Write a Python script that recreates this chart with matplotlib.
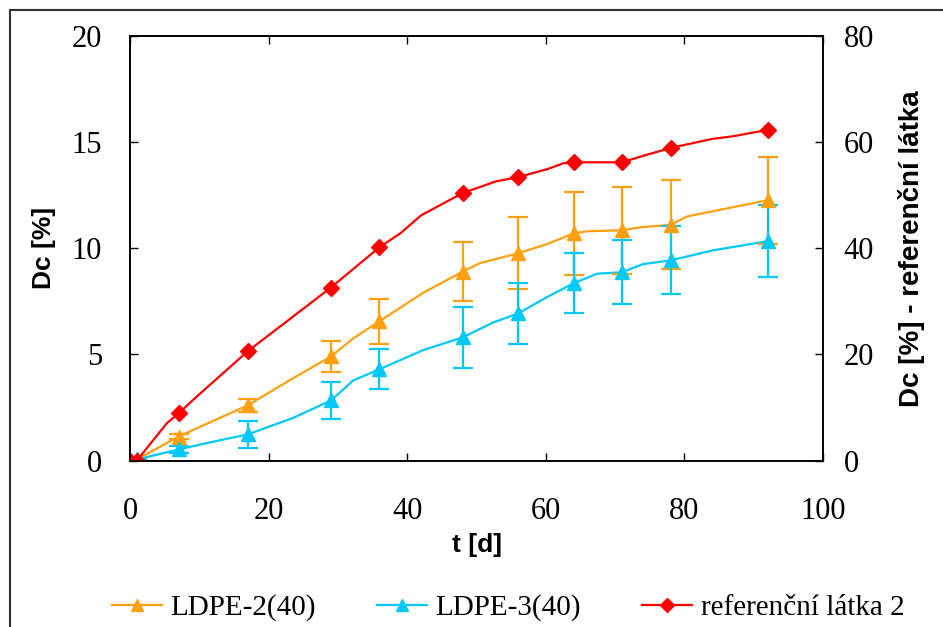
import matplotlib.pyplot as plt
from matplotlib.lines import Line2D
from matplotlib.patches import Rectangle

# measured points (markers + error bars)
t_pts = [0, 1, 7, 17, 29, 36, 48, 56, 64, 71, 78, 92]
ldpe2 = [0, 0.05, 1.13, 2.6, 4.9, 6.56, 8.9, 9.76, 10.7, 10.85, 11.1, 12.26]
ldpe2_err = [0, 0, 0.1, 0.3, 0.75, 1.05, 1.4, 1.7, 1.95, 2.05, 2.1, 2.05]
ldpe3 = [0, 0.05, 0.52, 1.23, 2.83, 4.3, 5.8, 6.93, 8.35, 8.87, 9.43, 10.33]
ldpe3_err = [0, 0, 0.15, 0.65, 0.87, 0.95, 1.43, 1.42, 1.42, 1.5, 1.6, 1.7]
ref2 = [0, 0, 8.9, 20.6, 32.6, 40.2, 50.4, 53.4, 56.2, 56.2, 58.9, 62.3]

# continuous curves (denser readings)
t_ldpe2_c = [0, 1, 7, 17, 23.5, 29, 32.2, 36, 39, 42.3, 48, 50.5, 56, 60.2, 64, 66, 71, 74, 78, 80.4, 88, 92]
ldpe2_c = [0, 0.05, 1.13, 2.6, 3.87, 4.9, 5.75, 6.56, 7.2, 7.9, 8.9, 9.3, 9.76, 10.2, 10.7, 10.8, 10.85, 11.0, 11.1, 11.5, 12.0, 12.26]
t_ldpe3_c = [0, 1, 7, 11.5, 17, 23.5, 29, 32.2, 36, 42.3, 48, 52.4, 56, 60.2, 64, 67.4, 71, 74, 78, 84.1, 92]
ldpe3_c = [0, 0.05, 0.52, 0.85, 1.23, 2.0, 2.83, 3.77, 4.3, 5.2, 5.8, 6.5, 6.93, 7.7, 8.35, 8.8, 8.87, 9.25, 9.43, 9.9, 10.33]
t_ref2_c = [0, 1, 5.3, 7, 10.1, 17, 29, 36, 39, 42, 48, 52.8, 56, 60.2, 62.5, 64, 71, 74, 78, 84, 87, 92]
ref2_c = [0, 0, 7, 8.9, 12.6, 20.6, 32.6, 40.2, 42.8, 46.2, 50.4, 52.6, 53.4, 54.9, 56, 56.2, 56.2, 57.4, 58.9, 60.6, 61.1, 62.3]

c_or = '#FFA010'
c_cy = '#00C8F8'
c_red = '#FF0000'
serif = 'Liberation Serif'
sans = 'Liberation Sans'

fig = plt.figure(figsize=(9.43, 6.27), dpi=100)
ax = fig.add_axes([130/943, 1 - 460.5/627, 693/943, 424.5/627])
ax2 = ax.twinx()

# LDPE series on the left axis
ax.plot(t_ldpe2_c, ldpe2_c, color=c_or, lw=1.6, zorder=2)
ax.errorbar(t_pts, ldpe2, yerr=ldpe2_err, fmt='^', color=c_or, ms=10,
            capsize=7, elinewidth=1.6, capthick=1.6, zorder=3)
ax.plot(t_ldpe3_c, ldpe3_c, color=c_cy, lw=1.6, zorder=2)
ax.errorbar(t_pts, ldpe3, yerr=ldpe3_err, fmt='^', color=c_cy, ms=10,
            capsize=7, elinewidth=1.6, capthick=1.6, zorder=3)

# reference on the right axis
ax2.plot(t_ref2_c, ref2_c, color=c_red, lw=1.6)
ax2.plot(t_pts, ref2, 'D', color=c_red, ms=8)

ax.set_xlim(0, 100)
ax.set_ylim(0, 20)
ax2.set_ylim(0, 80)
ax.set_xticks([0, 20, 40, 60, 80, 100])
ax.set_yticks([0, 5, 10, 15, 20])
ax2.set_yticks([0, 20, 40, 60, 80])

ax.tick_params(axis='x', direction='in', length=6, width=1, top=True, pad=26,
               labelsize=22)
ax.tick_params(axis='y', direction='in', length=6, width=1, pad=20, labelsize=22)
ax2.tick_params(axis='y', direction='in', length=6, width=1, pad=15, labelsize=22)
for lab in ax.get_xticklabels() + ax.get_yticklabels() + ax2.get_yticklabels():
    lab.set_fontfamily(serif)

for a in (ax, ax2):
    for s in a.spines.values():
        s.set_linewidth(1.2)

ax.set_xlabel('t [d]', fontfamily=sans, fontweight='bold', fontsize=19, labelpad=5)
ax.set_ylabel('Dc [%]', fontfamily=sans, fontweight='bold', fontsize=19, labelpad=11)
ax2.set_ylabel('Dc [%] - referenční látka', fontfamily=sans, fontweight='bold',
               fontsize=20, labelpad=17)

handles = [
    Line2D([], [], color=c_or, lw=1.6, marker='^', ms=9),
    Line2D([], [], color=c_cy, lw=1.6, marker='^', ms=9),
    Line2D([], [], color=c_red, lw=1.6, marker='D', ms=7),
]
fig.legend(handles, ['LDPE-2(40)', 'LDPE-3(40)', 'referenční látka 2'],
           loc='center', bbox_to_anchor=(0.539, 19/627), ncol=3, frameon=False,
           prop={'family': serif, 'size': 21}, handlelength=1.7,
           handletextpad=0.3, columnspacing=2.1)

# outer frame of the chart area
fig.patches.append(Rectangle((10/943, -0.2), 1.2, 1.2 - 10/627, transform=fig.transFigure,
                             fill=False, edgecolor='#333333', lw=1.5))

fig.savefig('out.png', dpi=100)
